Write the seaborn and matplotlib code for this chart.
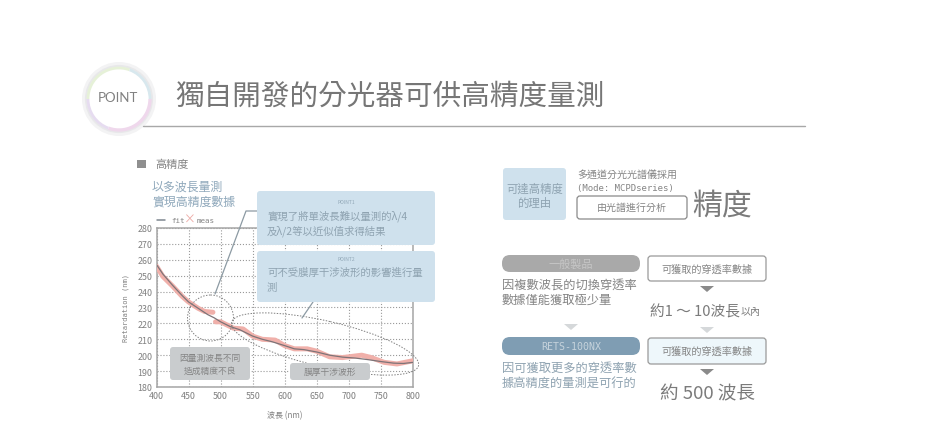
import numpy as np
import pandas as pd
import matplotlib.pyplot as plt
from matplotlib.patches import Arc, Circle, Ellipse, FancyBboxPatch, Polygon
import seaborn as sns

# values
fit_wave = [400, 410, 425, 440, 450, 465, 480, 490, 500, 515, 530, 550, 565, 580, 600, 615, 630, 650, 670, 690, 710, 730, 750, 770, 785, 800]
fit_ret = [257, 251, 244, 237.5, 233.5, 229.5, 225.5, 223.5, 221, 218, 216, 212, 210, 208.5, 206, 204, 203.5, 202, 200, 198.8, 198.2, 197.2, 196, 195, 194.8, 195.5]
meas_wave = [400, 410, 425, 440, 450, 465, 475, 488, 492, 500, 510, 520, 535, 550, 565, 585, 600, 615, 635, 650, 670, 690, 720, 735, 755, 775, 800]
meas_ret = [256, 249.5, 243.5, 237, 233.5, 229.5, 227.5, 227, 221, 221, 219, 217, 216.5, 212, 210, 209.5, 206, 204, 204, 202.5, 199, 198.5, 200, 198.5, 195.5, 194.5, 196.5]
x_ticks = [400, 450, 500, 550, 600, 650, 700, 750, 800]
y_ticks = [180, 190, 200, 210, 220, 230, 240, 250, 260, 270, 280]

fit_df = pd.DataFrame({"wave": fit_wave, "ret": fit_ret})
meas_df = pd.DataFrame({"wave": meas_wave, "ret": meas_ret})
left_part = meas_df[meas_df.wave <= 488]
right_part = meas_df[meas_df.wave >= 492]

sns.set_theme(style="white")
plt.rcParams['font.family'] = ['Noto Sans CJK TC', 'DejaVu Sans']

W, H = 947, 439
fig = plt.figure(figsize=(W / 100, H / 100), dpi=100)
ax = fig.add_axes([156.5 / W, 1 - 388 / H, 256.5 / W, 159 / H])

sns.lineplot(data=left_part, x="wave", y="ret", color="#f0b0aa", lw=3.6, ax=ax, zorder=3)
sns.lineplot(data=right_part, x="wave", y="ret", color="#f0b0aa", lw=3.6, ax=ax, zorder=3)
sns.lineplot(data=fit_df, x="wave", y="ret", color="#7d7478", lw=0.9, ax=ax, zorder=4)

ax.set_xlim(400, 800)
ax.set_ylim(180, 280)
ax.set_xticks(x_ticks)
ax.set_yticks(y_ticks)
ax.tick_params(labelsize=6.4, colors="#808080", length=0, pad=3)
ax.set_xlabel("波長 (nm)", fontsize=5.8, color="#808080", labelpad=7)
ax.set_ylabel("Retardation (nm)", fontsize=5.1, color="#808080", family="DejaVu Sans Mono", labelpad=6)
ax.grid(True, ls=":", lw=0.8, color="#999999")
for s in ax.spines.values():
    s.set_color("#a5a5a5")
    s.set_linewidth(1.1)

# overlay in pixel coordinates for the page furniture
ov = fig.add_axes([0, 0, 1, 1], facecolor="none")
ov.set_xlim(0, W)
ov.set_ylim(H, 0)
ov.axis("off")


def txt(x, y, s, size, color="#858585", ha="left", **kw):
    ov.text(x, y, s, fontsize=size, color=color, ha=ha, va="center", **kw)


def box(x0, y0, x1, y1, fc, ec="none", r=3, lw=1, z=2):
    ov.add_patch(FancyBboxPatch((x0 + r, y0 + r), x1 - x0 - 2 * r, y1 - y0 - 2 * r,
                                boxstyle=f"round,pad={r},rounding_size={r}",
                                fc=fc, ec=ec, lw=lw, zorder=z))


def tri(cx, cy, color):
    ov.add_patch(Polygon([(cx - 7, cy - 3), (cx + 7, cy - 3), (cx, cy + 3)], fc=color, ec="none"))


# header
ov.add_patch(Circle((119, 100), 37, fc="#f3f3f4", ec="none"))
ov.add_patch(Circle((119, 100), 33, fc="#ffffff", ec="#e8e8ea", lw=1.5))
ov.add_patch(Arc((119, 100), 62, 62, theta1=180, theta2=290, color="#e6f1d8", lw=2))
ov.add_patch(Arc((119, 100), 62, 62, theta1=290, theta2=360, color="#d8e8ee", lw=2))
ov.add_patch(Arc((119, 100), 62, 62, theta1=0, theta2=110, color="#efd8ec", lw=2.4))
ov.add_patch(Arc((119, 100), 62, 62, theta1=110, theta2=180, color="#e6dcf0", lw=2))
txt(118, 98, "POINT", 9.5, color="#808080", ha="center", family="Lato")
ov.plot([143, 805], [127, 127], color="#a8a8a8", lw=1.0)
txt(175, 96.5, "獨自開發的分光器可供高精度量測", 20.6, color="#767676")

# left heading
ov.add_patch(plt.Rectangle((137, 161), 9, 8, fc="#8f8f8f", ec="none"))
txt(155, 165, "高精度", 8)
txt(152, 187, "以多波長量測", 8.6, color="#8fa8bb")
txt(152, 202, "實現高精度數據", 8.6, color="#8fa8bb")
ov.plot([157, 165], [221, 221], color="#7d8690", lw=1.1)
txt(171, 221, "fit", 5.4, family="DejaVu Sans Mono")
txt(184, 220, "×", 8.5, color="#eda9a4")
txt(197, 221, "meas", 5.4, family="DejaVu Sans Mono")

# chart call-outs
ov.add_patch(Circle((210.5, 319), 23, fc="none", ec="#808080", lw=0.7, ls=(0, (1.5, 1.5)), zorder=5))
ov.add_patch(Ellipse((325, 345), 192, 46, angle=13, fc="none", ec="#808080", lw=0.7, ls=(0, (1.5, 1.5)), zorder=5))
ov.plot([215, 246, 258], [295, 212, 212], color="#8c9aa3", lw=0.9, zorder=5)
ov.plot([302, 313], [319, 303], color="#8c9aa3", lw=0.9, zorder=5)

box(257, 192, 435, 246, "#cfe1ed", z=6)
txt(346, 203, "POINT1", 3.6, color="#93a9b8", ha="center", zorder=7)
txt(267, 216, "實現了將單波長難以量測的λ/4", 7.5, color="#8fa3b1", zorder=7)
txt(267, 231, "及λ/2等以近似值求得結果", 7.5, color="#8fa3b1", zorder=7)
box(257, 252, 435, 303, "#cfe1ed", z=6)
txt(346, 260, "POINT2", 3.6, color="#93a9b8", ha="center", zorder=7)
txt(267, 273, "可不受膜厚干涉波形的影響進行量", 7.5, color="#8fa3b1", zorder=7)
txt(267, 288, "測", 7.5, color="#8fa3b1", zorder=7)

box(170, 348, 250, 381, "#c9ccce", z=6)
txt(210, 358, "因量測波長不同", 6.3, ha="center", zorder=7)
txt(210, 371, "造成精度不良", 6.3, ha="center", zorder=7)
box(290, 364, 370, 381, "#c9ccce", z=6)
txt(330, 372, "膜厚干涉波形", 6.3, ha="center", zorder=7)

# right panel, top
box(503, 169, 566, 221, "#cfe1ed")
txt(534.5, 189, "可達高精度", 8.2, color="#8fa3b1", ha="center")
txt(534.5, 204, "的理由", 8.2, color="#8fa3b1", ha="center")
txt(577, 175, "多通道分光光譜儀採用", 7.2)
txt(577, 189, "(Mode: MCPDseries)", 6.5, family="DejaVu Sans Mono")
box(577, 197, 687, 220, "#ffffff", ec="#8a8a8a", lw=0.9)
txt(632, 208, "由光譜進行分析", 7.2, ha="center")
txt(692, 206, "精度", 21.5, color="#7b7b7b")

# right panel, lower left
box(502, 256, 640, 273, "#a9a9a9", r=8)
txt(571, 264, "一般製品", 8, color="#c6c6c6", ha="center")
txt(502, 286, "因複數波長的切換穿透率", 8.8)
txt(502, 300, "數據僅能獲取極少量", 8.8)
tri(571, 328, "#d5d8da")
box(502, 338, 640, 356, "#7f9db3", r=8)
txt(571, 347, "RETS-100NX", 7.2, color="#c6d3dc", ha="center", family="DejaVu Sans Mono")
txt(502, 369, "因可獲取更多的穿透率數", 8.8, color="#8fa3b1")
txt(502, 384, "據高精度的量測是可行的", 8.8, color="#8fa3b1")

# right panel, lower right
box(648, 257, 766, 282, "#ffffff", ec="#9a9a9a", lw=0.9)
txt(707, 270, "可獲取的穿透率數據", 7.3, ha="center")
tri(707, 290, "#8a8a8a")
txt(650, 312, "約1 ～ 10波長", 10.6, color="#7b7b7b")
txt(741, 312, "以內", 7.2, color="#7b7b7b")
tri(707, 331, "#d5d8da")
box(648, 339, 766, 365, "#eef7fb", ec="#9a9a9a", lw=0.9)
txt(707, 352, "可獲取的穿透率數據", 7.3, ha="center")
tri(707, 373, "#8a8a8a")
txt(660, 394, "約 500 波長", 13.4, color="#7b7b7b")

fig.savefig("out.png", dpi=100, facecolor="white")
